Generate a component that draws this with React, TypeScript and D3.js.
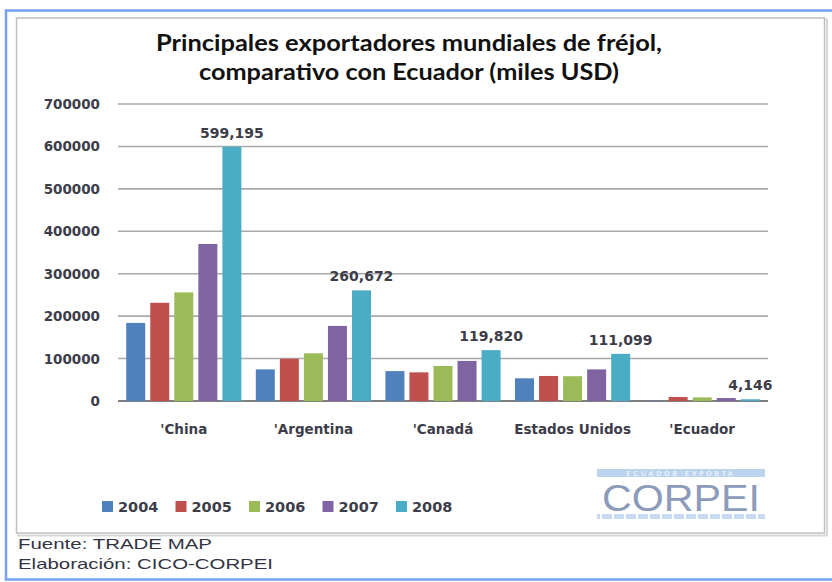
import React from "react";
import * as d3 from "d3";

const categories = ["'China", "'Argentina", "'Canadá", "Estados Unidos", "'Ecuador"];
const years = ["2004", "2005", "2006", "2007", "2008"];
const v2004 = [184000, 74500, 70500, 53500, 500];
const v2005 = [231500, 99500, 67500, 59000, 9400];
const v2006 = [256000, 112500, 82500, 58500, 8500];
const v2007 = [370000, 177000, 94500, 74500, 7000];
const v2008 = [599195, 260672, 119820, 111099, 4146];
const series = [v2004, v2005, v2006, v2007, v2008];
const yTicks = [0, 100000, 200000, 300000, 400000, 500000, 600000, 700000];
const colors = ["#4F81BD", "#C0504D", "#9BBB59", "#8064A2", "#4BACC6"];

export default function App() {
  const W = 832, H = 582;
  const x0 = d3.scaleBand<string>().domain(categories).range([119, 767]).padding(0);
  const x1 = d3.scaleBand<string>().domain(years).range([0, x0.bandwidth()]).paddingInner(0.21).paddingOuter(0.3);
  const y = d3.scaleLinear().domain([0, 700000]).range([401, 104]);
  const fmt = d3.format(",");
  const textFill = "#3d3d4a";

  return (
    <div style={{ position: "absolute", left: 0, top: 0 }}>
      <svg width={W} height={H} style={{ display: "block", background: "#fff" }}>
        {/* outer blue frame */}
        <rect x={6} y={10.5} width={840} height={569} fill="none" stroke="#76a1f7" strokeWidth={2.5} />
        {/* inner chart box with shadow */}
        <rect x={18} y={19.5} width={809} height={516} fill="none" stroke="#d8d8d8" strokeWidth={2} />
        <rect x={16.5} y={18} width={808} height={515} fill="#fff" stroke="#bfbfbf" strokeWidth={1.5} />

        {/* title */}
        <g fontFamily="Lato, 'Open Sans', sans-serif" fontWeight="bold" fontSize={23} fill="#111" textAnchor="middle">
          <text x={409} y={51} textLength={506} lengthAdjust="spacingAndGlyphs">Principales exportadores mundiales de fréjol,</text>
          <text x={409} y={80} textLength={420} lengthAdjust="spacingAndGlyphs">comparativo con Ecuador (miles USD)</text>
        </g>

        {/* gridlines */}
        {yTicks.map((t) => (
          <line key={t} x1={118} x2={768} y1={y(t)} y2={y(t)}
            stroke={t === 0 ? "#7f7f7f" : "#a9a9a9"} strokeWidth={t === 0 ? 2 : 1.6} />
        ))}

        {/* y tick labels */}
        <g fontFamily="'DejaVu Sans', sans-serif" fontWeight="bold" fontSize={13.5} fill={textFill} textAnchor="end">
          {yTicks.map((t) => (
            <text key={t} x={100} y={y(t) + 5}>{t}</text>
          ))}
        </g>

        {/* bars */}
        {categories.map((c, ci) => (
          <g key={c} transform={`translate(${x0(c)},0)`}>
            {years.map((yr, si) => {
              const v = series[si][ci];
              return (
                <rect key={yr} x={x1(yr)} y={y(v)} width={x1.bandwidth()} height={y(0) - y(v)} fill={colors[si]} />
              );
            })}
          </g>
        ))}

        {/* data labels for 2008 */}
        <g fontFamily="'DejaVu Sans', sans-serif" fontWeight="bold" fontSize={14} fill={textFill} textAnchor="middle">
          {categories.map((c, ci) => (
            <text key={c} x={(x0(c) as number) + (x1("2008") as number) + x1.bandwidth() / 2} y={y(v2008[ci]) - 9}>
              {fmt(v2008[ci])}
            </text>
          ))}
        </g>

        {/* category labels */}
        <g fontFamily="'DejaVu Sans', sans-serif" fontWeight="bold" fontSize={13.5} fill={textFill} textAnchor="middle">
          {categories.map((c) => (
            <text key={c} x={(x0(c) as number) + x0.bandwidth() / 2} y={434}>{c}</text>
          ))}
        </g>

        {/* legend */}
        <g fontFamily="'DejaVu Sans', sans-serif" fontWeight="bold" fontSize={14.5} fill={textFill}>
          {years.map((yr, i) => (
            <g key={yr} transform={`translate(${102 + i * 73.5},0)`}>
              <rect x={0} y={501} width={11} height={11} fill={colors[i]} />
              <text x={16} y={512}>{yr}</text>
            </g>
          ))}
        </g>

        {/* CORPEI logo */}
        <g>
          <rect x={597} y={469} width={168} height={8} fill="#bcd3ee" />
          <text x={681} y={476} textAnchor="middle" fontFamily="'DejaVu Sans', sans-serif" fontSize={6.5}
            fill="#fff" letterSpacing={3}>ECUADOR EXPORTA</text>
          <text x={681} y={511} textAnchor="middle" fontFamily="'Liberation Sans', Arial, sans-serif" fontSize={37}
            fill="#8d9bbb" textLength={158} lengthAdjust="spacingAndGlyphs">CORPEI</text>
          <rect x={597} y={514} width={168} height={5} fill="#c9dbf1" />
          {d3.range(0, 14).map((i) => (
            <rect key={i} x={600 + i * 12} y={514} width={2} height={5} fill="#fff" />
          ))}
        </g>

        {/* footer */}
        <g fontFamily="'Liberation Sans', Arial, sans-serif" fontSize={15} fill="#333344">
          <text x={18} y={549} textLength={194} lengthAdjust="spacingAndGlyphs">Fuente: TRADE MAP</text>
          <text x={18} y={569} textLength={255} lengthAdjust="spacingAndGlyphs">Elaboración: CICO-CORPEI</text>
        </g>
      </svg>
    </div>
  );
}
